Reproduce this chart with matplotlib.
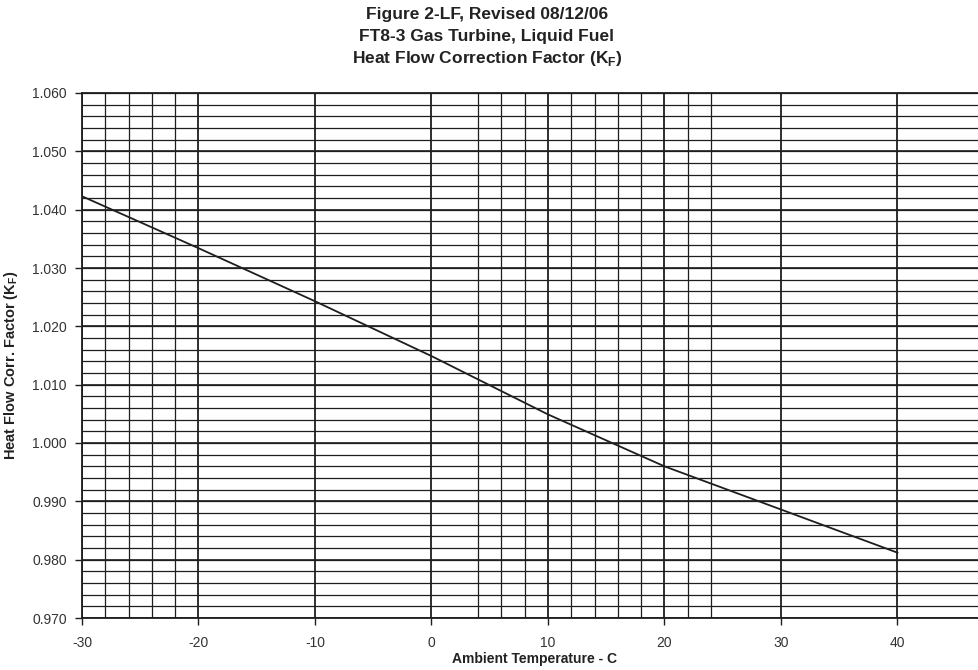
import matplotlib
matplotlib.use("Agg")
import matplotlib.pyplot as plt
import numpy as np

# curve values
temps = [-30, -20, -10, 0, 10, 20, 30, 40]
kf = [1.0423, 1.0334, 1.0243, 1.0149, 1.0049, 0.9960, 0.9886, 0.9812]

x_major = [-30, -20, -10, 0, 10, 20, 30, 40]
x_minor = [-28, -26, -24, -22, 4, 6, 8, 12, 14, 16, 18, 22, 24]
y_major = [0.970, 0.980, 0.990, 1.000, 1.010, 1.020, 1.030, 1.040, 1.050, 1.060]

title_lines = ["Figure 2-LF, Revised 08/12/06",
               "FT8-3 Gas Turbine, Liquid Fuel",
               "Heat Flow Correction Factor (K$_\\mathregular{F}$)"]

plt.rcParams['font.family'] = ['Liberation Sans', 'DejaVu Sans']

fig = plt.figure(figsize=(9.79, 6.70), dpi=100)
ax = fig.add_axes([82 / 979, 52 / 670, (979 - 82) / 979, (618 - 93) / 670])

ink = '#1e1e1e'

# grid - drawn by hand so the minor lines can skip like on the original
y_minor = np.arange(0.970, 1.0601, 0.002)
for y in y_minor:
    ax.axhline(y, color=ink, lw=0.9, zorder=1)
for y in y_major:
    ax.axhline(y, color=ink, lw=1.2, zorder=1)
for x in x_minor:
    ax.axvline(x, color=ink, lw=0.9, zorder=1)
for x in x_major:
    ax.axvline(x, color=ink, lw=1.3, zorder=1)

ax.plot(temps, kf, color=ink, lw=1.3, zorder=3)

ax.set_xlim(-30, 47)
ax.set_ylim(0.970, 1.060)
ax.set_xticks(x_major)
ax.set_xticklabels([str(t) for t in x_major], fontsize=10, color='#333333')
ax.set_yticks(y_major)
ax.set_yticklabels([f"{v:.3f}" for v in y_major], fontsize=10, color='#333333')
ax.tick_params(axis='y', direction='out', length=5, width=1, color=ink, pad=6)
ax.tick_params(axis='x', direction='out', length=5, width=1, color=ink, pad=8)

ax.spines['right'].set_visible(False)
for s in ['left', 'bottom', 'top']:
    ax.spines[s].set_color(ink)
    ax.spines[s].set_linewidth(1.3)

ax.set_xlabel("Ambient Temperature - C", fontsize=10, fontweight='bold', color='#222222', va='center')
ax.xaxis.set_label_coords((535 - 82) / 897, (618 - 659) / 525)
ax.set_ylabel("Heat Flow Corr. Factor (K$_\\mathregular{F}$)", fontsize=10.5, fontweight='bold',
              color='#222222')
ax.yaxis.set_label_coords((20 - 82) / 897, (618 - 365) / 525)

for i, line in enumerate(title_lines):
    fig.text(487 / 979, 1 - (15 + 22 * i) / 670, line, ha='center', va='center',
             fontsize=12.5, fontweight='bold', color='#222222')

fig.savefig("out.png", dpi=100)
